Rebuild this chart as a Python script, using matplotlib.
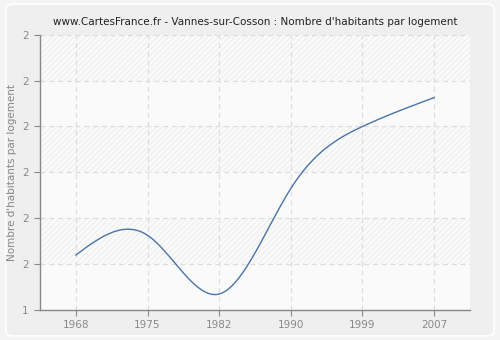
import numpy as np
import matplotlib
matplotlib.use("Agg")
import matplotlib.pyplot as plt
from matplotlib.patches import Rectangle, FancyBboxPatch
from matplotlib.ticker import FuncFormatter

years = ["1968", "1975", "1982", "1990", "1999", "2007"]
values = [1.52, 1.563, 1.435, 1.665, 1.80, 1.863]
yticks = [1.4, 1.5, 1.6, 1.7, 1.8, 1.9, 2.0]
title = "www.CartesFrance.fr - Vannes-sur-Cosson : Nombre d'habitants par logement"
ylabel = "Nombre d'habitants par logement"


def natural_spline(x, y, n=40):
    x = np.asarray(x, float)
    y = np.asarray(y, float)
    k = len(x)
    h = np.diff(x)
    A = np.zeros((k, k))
    b = np.zeros(k)
    A[0, 0] = 1
    A[-1, -1] = 1
    for i in range(1, k - 1):
        A[i, i - 1] = h[i - 1]
        A[i, i] = 2 * (h[i - 1] + h[i])
        A[i, i + 1] = h[i]
        b[i] = 6 * ((y[i + 1] - y[i]) / h[i] - (y[i] - y[i - 1]) / h[i - 1])
    M = np.linalg.solve(A, b)
    xs, ys = [], []
    for i in range(k - 1):
        t = np.linspace(x[i], x[i + 1], n)
        a = x[i + 1] - t
        c = t - x[i]
        s = (M[i] * a**3 + M[i + 1] * c**3) / (6 * h[i]) \
            + (y[i] / h[i] - M[i] * h[i] / 6) * a \
            + (y[i + 1] / h[i] - M[i + 1] * h[i] / 6) * c
        xs.append(t)
        ys.append(s)
    return np.concatenate(xs), np.concatenate(ys)


fig = plt.figure(figsize=(5, 3.4), dpi=100)
fig.patch.set_facecolor("#f4f4f4")
fig.patches.append(FancyBboxPatch((0.012, 0.012), 0.976, 0.976,
                                  boxstyle="round,pad=0,rounding_size=0.015",
                                  transform=fig.transFigure, facecolor="#efefef",
                                  edgecolor="#ffffff", linewidth=1.2, zorder=-1))

ax = fig.add_axes([0.08, 0.088, 0.86, 0.81])
ax.set_facecolor("#fafafa")
ax.set_xlim(-0.5, len(years) - 0.5)
ax.set_ylim(yticks[0], yticks[-1])

plt.rcParams["hatch.linewidth"] = 0.6
for i in range(len(yticks) - 1):
    if (len(yticks) - 2 - i) % 2 == 0:
        ax.add_patch(Rectangle((-0.5, yticks[i]), len(years), yticks[i + 1] - yticks[i],
                               facecolor="#fafafa", edgecolor="#ebebeb", hatch="//////",
                               linewidth=0, zorder=0))

idx = np.arange(len(years))
xs, ys = natural_spline(idx, values)
ax.plot(xs, ys, color="#4a74a8", linewidth=1.0, zorder=3)

ax.set_xticks(idx)
ax.set_xticklabels(years)
ax.set_yticks(yticks)
ax.yaxis.set_major_formatter(FuncFormatter(lambda v, p: "1" if v < 1.45 else "2"))
ax.grid(True, color="#dddddd", linestyle=(0, (4, 3)), linewidth=0.9)
ax.set_axisbelow(True)

for s in ["top", "right"]:
    ax.spines[s].set_visible(False)
for s in ["left", "bottom"]:
    ax.spines[s].set_color("#888888")
    ax.spines[s].set_linewidth(1.0)

ax.tick_params(colors="#888888", labelsize=7.5, length=4, width=0.8, direction="out")
ax.tick_params(axis="y", pad=4)
ax.set_ylabel(ylabel, color="#888888", fontsize=7.5)
ax.set_title(title, fontsize=7.5, color="#222222", pad=7)

fig.savefig("out.png", dpi=100, facecolor=fig.get_facecolor())
